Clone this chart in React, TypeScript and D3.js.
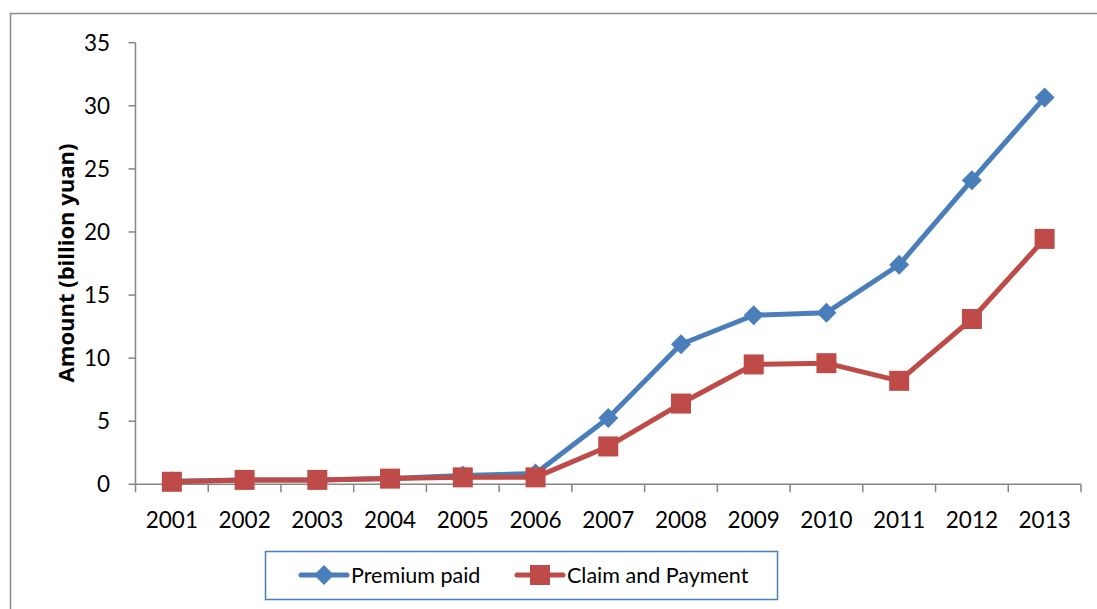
import React from "react";
import * as d3 from "d3";

const years = ["2001","2002","2003","2004","2005","2006","2007","2008","2009","2010","2011","2012","2013"];
const premiumPaid = [0.25, 0.35, 0.35, 0.45, 0.7, 0.85, 5.25, 11.1, 13.4, 13.6, 17.4, 24.1, 30.65];
const claimPayment = [0.2, 0.35, 0.35, 0.45, 0.55, 0.55, 3.0, 6.4, 9.5, 9.6, 8.2, 13.1, 19.45];
const yTicks = [0, 5, 10, 15, 20, 25, 30, 35];
const seriesNames = ["Premium paid", "Claim and Payment"];

const BLUE = "#4a7ebb";
const RED = "#be4b48";
const AXIS = "#868686";
const FONT = "Lato, 'Open Sans', sans-serif";
const LABEL_FONT = "'Open Sans', sans-serif";

export default function App() {
  const W = 1097, H = 609;
  const left = 135.5, right = 1081, top = 42.7, bottom = 484.3;
  const x = d3.scaleBand<string>().domain(years).range([left, right]).padding(0);
  const y = d3.scaleLinear().domain([0, 35]).range([bottom, top]);
  const cx = (d: string) => (x(d) as number) + x.bandwidth() / 2;
  const line = d3.line<number>().x((_, i) => cx(years[i])).y((v) => y(v));

  const diamond = (px: number, py: number, r: number) =>
    `M${px},${py - r}L${px + r},${py}L${px},${py + r}L${px - r},${py}Z`;

  return (
    <svg width={W} height={H} style={{ position: "absolute", left: 0, top: 0, background: "#fff" }}>
      <rect x={10.5} y={13.5} width={1100} height={620} fill="#fff" stroke="#8c8c8c" strokeWidth={1.5} />
      {/* Y axis */}
      <line x1={left} x2={left} y1={top} y2={bottom} stroke={AXIS} strokeWidth={1.5} />
      {yTicks.map((t) => (
        <g key={t}>
          <line x1={left - 7} x2={left} y1={y(t)} y2={y(t)} stroke={AXIS} strokeWidth={1.5} />
          <text x={110} y={y(t)} dy="0.36em" textAnchor="end" fontFamily={FONT} fontSize={22.5} fill="#000">{t}</text>
        </g>
      ))}
      {/* X axis */}
      <line x1={left} x2={right} y1={bottom} y2={bottom} stroke={AXIS} strokeWidth={1.5} />
      {[...years.map((d) => x(d) as number), right].map((px, i) => (
        <line key={i} x1={px} x2={px} y1={bottom} y2={bottom + 8} stroke={AXIS} strokeWidth={1.5} />
      ))}
      {years.map((d) => (
        <text key={d} x={cx(d)} y={520} dy="0.36em" textAnchor="middle" fontFamily={FONT} fontSize={22.5} fill="#000">{d}</text>
      ))}
      {/* Y label */}
      <text transform={`translate(66,263) rotate(-90)`} dy="0.36em" textAnchor="middle" fontFamily={LABEL_FONT} fontWeight="bold" fontSize={22} fill="#000">Amount (billion yuan)</text>
      {/* Series */}
      <path d={line(premiumPaid) as string} fill="none" stroke={BLUE} strokeWidth={5} strokeLinejoin="round" />
      {premiumPaid.map((v, i) => (
        <path key={i} d={diamond(cx(years[i]), y(v), 10)} fill={BLUE} />
      ))}
      <path d={line(claimPayment) as string} fill="none" stroke={RED} strokeWidth={5} strokeLinejoin="round" />
      {claimPayment.map((v, i) => (
        <rect key={i} x={cx(years[i]) - 10} y={y(v) - 10} width={20} height={20} fill={RED} />
      ))}
      {/* Legend */}
      <rect x={265.5} y={551.5} width={512} height={48} fill="#fff" stroke={BLUE} strokeWidth={1.5} />
      <line x1={301} x2={347} y1={575} y2={575} stroke={BLUE} strokeWidth={5} strokeLinecap="round" />
      <path d={diamond(324, 575, 10)} fill={BLUE} />
      <text x={351} y={575} dy="0.36em" fontFamily={FONT} fontSize={21.5} fill="#000">{seriesNames[0]}</text>
      <line x1={517} x2={563} y1={575} y2={575} stroke={RED} strokeWidth={5} strokeLinecap="round" />
      <rect x={530} y={565} width={20} height={20} fill={RED} />
      <text x={567} y={575} dy="0.36em" fontFamily={FONT} fontSize={21.5} fill="#000">{seriesNames[1]}</text>
    </svg>
  );
}
